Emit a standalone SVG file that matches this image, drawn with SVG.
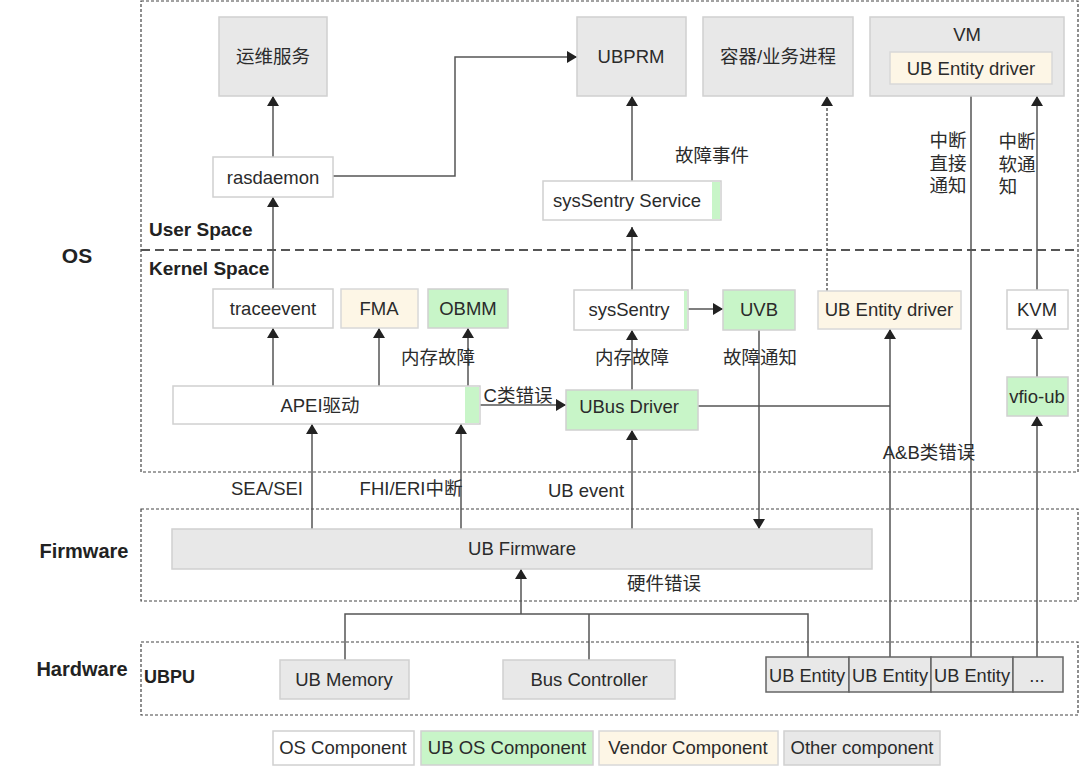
<svg xmlns="http://www.w3.org/2000/svg" width="1080" height="770" viewBox="0 0 1080 770">
<style>
text{font-family:"Liberation Sans","Noto Sans CJK SC",sans-serif;fill:#2b2b2b;font-size:18.5px;text-anchor:middle;dominant-baseline:central}
.b{font-weight:bold;fill:#222;text-anchor:start;font-size:19px}
.bc{font-weight:bold;fill:#222;font-size:20px}
.grey{fill:#e8e8e8;stroke:#d0d0d0;stroke-width:1.5}
.white{fill:#fff;stroke:#d0d0d0;stroke-width:1.5}
.green{fill:#c8f5c8;stroke:#d0d0d0;stroke-width:1.5}
.vend{fill:#fdf6e6;stroke:#d8d8d8;stroke-width:1.5}
.ent{fill:#e8e8e8;stroke:#666;stroke-width:1.5}
.strip{fill:#c8f5c8}
.zone{fill:none;stroke:#444;stroke-width:1.2;stroke-dasharray:3,2}
.sep{fill:none;stroke:#555;stroke-width:2;stroke-dasharray:9,5}
.c{fill:none;stroke:#555;stroke-width:1.5}
.a{fill:none;stroke:#555;stroke-width:1.5;marker-end:url(#ah)}
.d{fill:none;stroke:#444;stroke-width:1.3;stroke-dasharray:3,2;marker-end:url(#ah)}
</style>
<defs>
<marker id="ah" viewBox="0 0 10 12" refX="10" refY="6" markerWidth="10" markerHeight="12" markerUnits="userSpaceOnUse" orient="auto">
<path d="M0,0 L10,6 L0,12 Z" fill="#222"/>
</marker>
</defs>
<rect width="1080" height="770" fill="#fff"/>

<g id="zones">
<rect class="zone" x="141" y="1" width="937" height="471"/>
<line class="sep" x1="141" y1="250" x2="1078" y2="250"/>
<rect class="zone" x="141" y="509" width="937" height="92"/>
<rect class="zone" x="141" y="642" width="937" height="73"/>
<text class="bc" x="77" y="255" style="font-size:21px">OS</text>
<text class="b" x="149" y="229">User Space</text>
<text class="b" x="149" y="268">Kernel Space</text>
<text class="bc" x="84" y="551">Firmware</text>
<text class="bc" x="82" y="669">Hardware</text>
<text class="b" x="144" y="677" style="font-size:18px">UBPU</text>
</g>

<g id="connectors">
<path class="a" d="M273,157 V96"/>
<path class="a" d="M333,176 H455 V57 H577"/>
<path class="a" d="M273,289 V197"/>
<path class="a" d="M379,386 V328"/>
<path class="a" d="M468,386 V328"/>
<path class="a" d="M273,386 V328"/>
<path class="a" d="M480,405 H566"/>
<path class="a" d="M312,529 V424"/>
<path class="a" d="M461,529 V424"/>
<path class="a" d="M632,188 V96"/>
<path class="a" d="M632,290 V227"/>
<path class="a" d="M632,390 V330"/>
<path class="a" d="M632,529 V430"/>
<path class="a" d="M688,309 H723"/>
<path class="a" d="M759,330 V529"/>
<path class="d" d="M827,291 V96"/>
<path class="c" d="M698,406 H890"/>
<path class="a" d="M890,657 V329"/>
<path class="a" d="M971,657 V84"/>
<path class="a" d="M1037,290 V96"/>
<path class="a" d="M1037,377 V329"/>
<path class="a" d="M1037,657 V416"/>
<path class="c" d="M345,660 V614 H808 V657"/>
<path class="c" d="M589,660 V614"/>
<path class="a" d="M521,614 V569"/>
<text x="712" y="155">故障事件</text>
<text x="948" y="140">中断</text>
<text x="948" y="163">直接</text>
<text x="948" y="185">通知</text>
<text x="1017" y="141">中断</text>
<text x="1017" y="164">软通</text>
<text x="1008" y="186">知</text>
<text x="438" y="357">内存故障</text>
<text x="632" y="357">内存故障</text>
<text x="760" y="357">故障通知</text>
<text x="518" y="395">C类错误</text>
<text x="929" y="452">A&amp;B类错误</text>
<text x="267" y="488">SEA/SEI</text>
<text x="411" y="488">FHI/ERI中断</text>
<text x="586" y="490">UB event</text>
<text x="664" y="583">硬件错误</text>
</g>

<g id="n-ops"><rect class="grey" x="219" y="17" width="108" height="79"/><text x="273" y="56">运维服务</text></g>
<g id="n-ubprm"><rect class="grey" x="577" y="17" width="109" height="79"/><text x="631" y="56">UBPRM</text></g>
<g id="n-container"><rect class="grey" x="703" y="17" width="150" height="79"/><text x="778" y="56">容器/业务进程</text></g>
<g id="n-vm"><rect class="grey" x="870" y="17" width="194" height="79"/><text x="967" y="34">VM</text></g>
<g id="n-vm-driver"><rect class="vend" x="890" y="52" width="162" height="32"/><text x="971" y="68">UB Entity driver</text></g>
<g id="n-rasdaemon"><rect class="white" x="213" y="157" width="120" height="40"/><text x="273" y="177">rasdaemon</text></g>
<g id="n-sss"><rect class="white" x="543" y="181" width="178" height="39"/><rect class="strip" x="712" y="182" width="8" height="37"/><text x="627" y="200">sysSentry Service</text></g>
<g id="n-traceevent"><rect class="white" x="213" y="289" width="120" height="39"/><text x="273" y="308">traceevent</text></g>
<g id="n-fma"><rect class="vend" x="341" y="289" width="77" height="39"/><text x="379" y="308">FMA</text></g>
<g id="n-obmm"><rect class="green" x="428" y="289" width="80" height="39"/><text x="468" y="308">OBMM</text></g>
<g id="n-apei"><rect class="white" x="173" y="386" width="307" height="38"/><rect class="strip" x="465" y="387" width="14" height="36"/><text x="320" y="405">APEI驱动</text></g>
<g id="n-syssentry"><rect class="white" x="574" y="290" width="114" height="40"/><rect class="strip" x="684" y="291" width="3" height="38"/><text x="629" y="309">sysSentry</text></g>
<g id="n-uvb"><rect class="green" x="723" y="290" width="72" height="40"/><text x="759" y="309">UVB</text></g>
<g id="n-kdriver"><rect class="vend" x="818" y="291" width="143" height="38"/><text x="889" y="309">UB Entity driver</text></g>
<g id="n-kvm"><rect class="white" x="1007" y="290" width="61" height="39"/><text x="1037" y="309">KVM</text></g>
<g id="n-vfio"><rect class="green" x="1007" y="377" width="61" height="39"/><text x="1037" y="396">vfio-ub</text></g>
<g id="n-ubus"><rect class="green" x="566" y="390" width="132" height="40"/><text x="629" y="406">UBus Driver</text></g>
<g id="n-fw"><rect class="grey" x="172" y="529" width="700" height="40"/><text x="522" y="548">UB Firmware</text></g>
<g id="n-mem"><rect class="grey" x="280" y="660" width="129" height="39"/><text x="344" y="679">UB Memory</text></g>
<g id="n-bus"><rect class="grey" x="503" y="660" width="172" height="39"/><text x="589" y="679">Bus Controller</text></g>
<g id="n-entities">
<rect class="ent" x="766" y="657" width="83" height="35"/><text x="807" y="675" textLength="76" lengthAdjust="spacingAndGlyphs">UB Entity</text>
<rect class="ent" x="849" y="657" width="82" height="35"/><text x="890" y="675" textLength="76" lengthAdjust="spacingAndGlyphs">UB Entity</text>
<rect class="ent" x="931" y="657" width="82" height="35"/><text x="972" y="675" textLength="76" lengthAdjust="spacingAndGlyphs">UB Entity</text>
<rect class="ent" x="1013" y="657" width="50" height="35"/><text x="1037" y="675">...</text>
</g>
<g id="legend">
<rect class="white" x="273" y="731" width="141" height="34"/><text x="343" y="747">OS Component</text>
<rect class="green" x="421" y="731" width="172" height="34"/><text x="507" y="747">UB OS Component</text>
<rect class="vend" x="599" y="731" width="179" height="34"/><text x="688" y="747">Vendor Component</text>
<rect class="grey" x="784" y="731" width="156" height="34"/><text x="862" y="747">Other component</text>
</g>
</svg>
